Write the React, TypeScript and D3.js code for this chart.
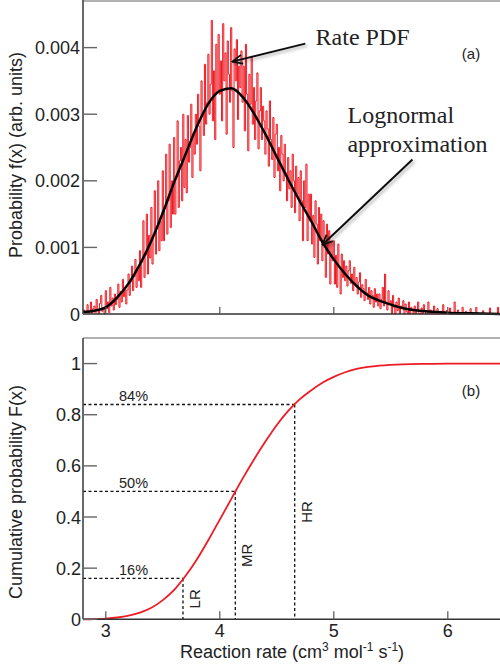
import { useEffect, useRef } from "react";
import * as d3 from "d3";

// rate PDF histogram, bins from 2.80 in steps of 0.01, values in 1e-5 units
const pdfStart = 2.8;
const pdfStep = 0.01;
const ratePdf = [
  0, 6, 0, 2, 14, 0, 3, 18, 0, 8,
  12, 0, 22, 5, 0, 16, 28, 4, 10, 0,
  35, 8, 18, 2, 40, 12, 24, 6, 30, 14,
  22, 45, 10, 34, 18, 52, 26, 40, 15, 36,
  60, 28, 48, 72, 35, 56, 82, 40, 66, 50,
  95, 40, 78, 140, 55, 88, 150, 60, 118, 84,
  160, 75, 118, 185, 90, 128, 200, 95, 140, 110,
  215, 110, 158, 240, 120, 170, 255, 130, 200, 150,
  265, 150, 205, 290, 160, 230, 250, 170, 300, 190,
  262, 182, 298, 228, 250, 315, 205, 272, 240, 300,
  255, 330, 282, 215, 350, 300, 268, 375, 285, 318,
  390, 300, 345, 441, 290, 365, 262, 405, 332, 420,
  330, 380, 290, 436, 350, 392, 270, 410, 360, 318,
  430, 335, 250, 398, 350, 412, 292, 372, 340, 395,
  318, 372, 275, 405, 330, 245, 360, 315, 385, 285,
  340, 262, 320, 362, 248, 305, 340, 262, 312, 290,
  240, 305, 278, 222, 320, 262, 232, 295, 205, 270,
  285, 215, 250, 185, 268, 240, 200, 255, 212, 170,
  235, 188, 215, 160, 240, 200, 152, 222, 180, 205,
  140, 215, 170, 110, 200, 160, 225, 110, 180, 140,
  180, 105, 148, 85, 170, 135, 75, 160, 110, 150,
  80, 140, 110, 55, 135, 90, 125, 45, 108, 80,
  110, 45, 88, 40, 105, 70, 30, 90, 55, 80,
  50, 72, 42, 65, 80, 46, 60, 35, 70, 45,
  55, 30, 48, 62, 25, 44, 38, 20, 52, 32,
  22, 40, 15, 35, 28, 10, 38, 18, 30, 12,
  30, 8, 22, 40, 12, 60, 18, 6, 35, 15,
  20, 0, 28, 10, 0, 18, 5, 24, 0, 12,
  8, 20, 0, 15, 4, 0, 18, 0, 10, 6,
  0, 12, 0, 5, 18, 0, 0, 9, 0, 14,
  5, 0, 0, 18, 0, 6, 0, 0, 12, 0,
  0, 8, 0, 0, 4, 0, 14, 0, 0, 5,
  0, 0, 9, 0, 0, 0, 18, 0, 0, 6,
  0, 0, 0, 10, 0, 0, 4, 0, 0, 0,
  8, 0, 0, 0, 0, 10, 0, 0, 0, 0,
  0, 5, 0, 0, 0, 0, 0, 9, 0, 0,
  0, 0, 0, 0, 10, 0, 0, 0, 0, 0,
  0,
];

// lognormal approximation, values in 1e-5 units
const lognormX = [2.8, 2.9, 3.0, 3.1, 3.2, 3.3, 3.4, 3.5, 3.6, 3.7, 3.8, 3.9, 4.0, 4.1, 4.2, 4.3, 4.4, 4.5, 4.6, 4.7, 4.8, 4.9, 5.0, 5.1, 5.2, 5.3, 5.4, 5.5, 5.6, 5.7, 5.8, 5.9, 6.0, 6.2, 6.5];
const lognormY = [3, 5, 10, 25, 46, 75, 110, 152, 198, 240, 282, 316, 335, 339, 326, 301, 270, 236, 202, 170, 140, 108, 82, 60, 42, 28, 20, 14, 9, 6, 4, 3, 2, 1, 0];

// cumulative probability
const cdfX = [2.8, 2.9, 3.0, 3.1, 3.2, 3.3, 3.4, 3.5, 3.6, 3.7, 3.8, 3.9, 4.0, 4.1, 4.2, 4.3, 4.4, 4.5, 4.6, 4.7, 4.8, 4.9, 5.0, 5.1, 5.2, 5.3, 5.4, 5.5, 5.6, 5.8, 6.0, 6.5];
const cdfY = [0, 0.001, 0.003, 0.007, 0.014, 0.026, 0.045, 0.075, 0.115, 0.17, 0.235, 0.31, 0.39, 0.47, 0.55, 0.625, 0.695, 0.76, 0.815, 0.86, 0.895, 0.925, 0.948, 0.966, 0.979, 0.987, 0.992, 0.995, 0.997, 0.999, 1.0, 1.0];

// percentile levels
const levelP = [0.16, 0.5, 0.84];
const levelX = [3.677, 4.136, 4.657];
const levelLabels = ["16%", "50%", "84%"];
const levelTags = ["LR", "MR", "HR"];

const xTicks = [3, 4, 5, 6];
const pdfTicks = [0, 0.001, 0.002, 0.003, 0.004];
const pdfTickLabels = ["0", "0.001", "0.002", "0.003", "0.004"];
const cdfTicks = [0, 0.2, 0.4, 0.6, 0.8, 1];
const cdfTickLabels = ["0", "0.2", "0.4", "0.6", "0.8", "1"];

const W = 500;
const H = 668;
const SANS = "'Liberation Sans', Arial, Helvetica, sans-serif";
const SERIF = "'Liberation Serif', 'Times New Roman', serif";
const RED = "#ee1b24";

export default function App() {
  const ref = useRef<SVGSVGElement | null>(null);

  useEffect(() => {
    const svg = d3.select(ref.current!);
    svg.selectAll("*").remove();

    const left = 83;
    const x = d3.scaleLinear().domain([2.8, 6.5]).range([left, 504.8]);
    const yTop = d3.scaleLinear().domain([0, 0.0047]).range([314, 1]);
    const yBot = d3.scaleLinear().domain([0, 1.1]).range([619.3, 338]);

    const defs = svg.append("defs");
    defs
      .append("marker")
      .attr("id", "open-arrow")
      .attr("viewBox", "0 0 12 12")
      .attr("refX", 11)
      .attr("refY", 6)
      .attr("markerWidth", 12)
      .attr("markerHeight", 12)
      .attr("markerUnits", "userSpaceOnUse")
      .attr("orient", "auto")
      .append("path")
      .attr("d", "M1,1.5 L11,6 L1,10.5")
      .attr("fill", "none")
      .attr("stroke", "#111")
      .attr("stroke-width", 1.8);
    const shadow = defs.append("filter").attr("id", "shadow").attr("x", "-20%").attr("y", "-20%").attr("width", "140%").attr("height", "140%");
    shadow
      .append("feDropShadow")
      .attr("dx", 2)
      .attr("dy", 2)
      .attr("stdDeviation", 1.6)
      .attr("flood-color", "#000")
      .attr("flood-opacity", 0.3);

    // ---------- (a) probability density ----------
    const top = svg.append("g");
    top.append("line").attr("x1", left).attr("x2", W).attr("y1", 1).attr("y2", 1).attr("stroke", "#999").attr("stroke-width", 1.5);

    const pdfPts: [number, number][] = ratePdf.map((v, i) => [pdfStart + i * pdfStep, v * 1e-5]);
    top
      .append("path")
      .datum(pdfPts)
      .attr("fill", "none")
      .attr("stroke", RED)
      .attr("stroke-width", 1)
      .attr(
        "d",
        d3
          .line<[number, number]>()
          .x((d) => x(d[0]))
          .y((d) => yTop(d[1]))
          .curve(d3.curveStep)
      );

    const lnPts: [number, number][] = lognormX.map((v, i) => [v, lognormY[i] * 1e-5]);
    top
      .append("path")
      .datum(lnPts)
      .attr("fill", "none")
      .attr("stroke", "#000")
      .attr("stroke-width", 2.5)
      .attr(
        "d",
        d3
          .line<[number, number]>()
          .x((d) => x(d[0]))
          .y((d) => yTop(d[1]))
          .curve(d3.curveMonotoneX)
      );

    top.append("line").attr("x1", left).attr("x2", left).attr("y1", 0).attr("y2", yTop(0)).attr("stroke", "#444").attr("stroke-width", 1.6);
    top.append("line").attr("x1", left).attr("x2", W).attr("y1", yTop(0)).attr("y2", yTop(0)).attr("stroke", "#333").attr("stroke-width", 1.6);

    top
      .selectAll("line.ytick")
      .data(pdfTicks)
      .join("line")
      .attr("class", "ytick")
      .attr("x1", left)
      .attr("x2", left + 14)
      .attr("y1", (d) => yTop(d))
      .attr("y2", (d) => yTop(d))
      .attr("stroke", "#666")
      .attr("stroke-width", 1.4);
    top
      .selectAll("line.xtick")
      .data(xTicks)
      .join("line")
      .attr("class", "xtick")
      .attr("x1", (d) => x(d))
      .attr("x2", (d) => x(d))
      .attr("y1", yTop(0))
      .attr("y2", yTop(0) - 7)
      .attr("stroke", "#555")
      .attr("stroke-width", 1.2);
    top
      .selectAll("text.ylab")
      .data(pdfTicks)
      .join("text")
      .attr("class", "ylab")
      .attr("x", 80)
      .attr("y", (d) => yTop(d) + 6.5)
      .attr("text-anchor", "end")
      .style("font", `18px ${SANS}`)
      .style("fill", "#222")
      .text((_, i) => pdfTickLabels[i]);

    top
      .append("text")
      .attr("transform", `translate(22,155) rotate(-90)`)
      .attr("text-anchor", "middle")
      .style("font", `18px ${SANS}`)
      .style("fill", "#222")
      .text("Probability f(x) (arb. units)");

    top
      .append("text")
      .attr("x", 471)
      .attr("y", 59)
      .attr("text-anchor", "middle")
      .style("font", `15px ${SANS}`)
      .style("fill", "#222")
      .text("(a)");

    // annotations
    top
      .append("text")
      .attr("x", x(4.84))
      .attr("y", yTop(0.00404))
      .style("font", `24px ${SERIF}`)
      .style("fill", "#222")
      .text("Rate PDF");
    top
      .append("text")
      .attr("x", x(5.12))
      .attr("y", yTop(0.00287))
      .style("font", `24px ${SERIF}`)
      .style("fill", "#222")
      .text("Lognormal");
    top
      .append("text")
      .attr("x", x(5.12))
      .attr("y", yTop(0.00244))
      .style("font", `24px ${SERIF}`)
      .style("fill", "#222")
      .text("approximation");

    const arrows = [
      { from: [4.75, 0.00406], to: [4.11, 0.00379] },
      { from: [5.69, 0.00232], to: [4.9, 0.00104] },
    ];
    top
      .selectAll("line.arrow")
      .data(arrows)
      .join("line")
      .attr("class", "arrow")
      .attr("x1", (d) => x(d.from[0]))
      .attr("y1", (d) => yTop(d.from[1]))
      .attr("x2", (d) => x(d.to[0]))
      .attr("y2", (d) => yTop(d.to[1]))
      .attr("stroke", "#111")
      .attr("stroke-width", 2)
      .attr("marker-end", "url(#open-arrow)")
      .attr("filter", "url(#shadow)");

    // ---------- (b) cumulative probability ----------
    const bot = svg.append("g");
    bot.append("line").attr("x1", left).attr("x2", W).attr("y1", yBot(1.1)).attr("y2", yBot(1.1)).attr("stroke", "#999").attr("stroke-width", 1.5);

    const dash = "3,2.5";
    levelP.forEach((p, i) => {
      bot.append("line").attr("x1", left).attr("x2", x(levelX[i])).attr("y1", yBot(p)).attr("y2", yBot(p)).attr("stroke", "#111").attr("stroke-width", 1.3).attr("stroke-dasharray", dash);
      bot.append("line").attr("x1", x(levelX[i])).attr("x2", x(levelX[i])).attr("y1", yBot(p)).attr("y2", yBot(0)).attr("stroke", "#111").attr("stroke-width", 1.3).attr("stroke-dasharray", dash);
      bot
        .append("text")
        .attr("x", 119)
        .attr("y", yBot(p) - 3)
        .style("font", `14.5px ${SANS}`)
        .style("fill", "#222")
        .text(levelLabels[i]);
      bot
        .append("text")
        .attr("transform", `translate(${x(levelX[i]) + 17},${yBot(p / 2)}) rotate(-90)`)
        .attr("text-anchor", "middle")
        .style("font", `15px ${SANS}`)
        .style("fill", "#222")
        .text(levelTags[i]);
    });

    const cdfPts: [number, number][] = cdfX.map((v, i) => [v, cdfY[i]]);
    bot
      .append("path")
      .datum(cdfPts)
      .attr("fill", "none")
      .attr("stroke", RED)
      .attr("stroke-width", 1.8)
      .attr(
        "d",
        d3
          .line<[number, number]>()
          .x((d) => x(d[0]))
          .y((d) => yBot(d[1]))
          .curve(d3.curveMonotoneX)
      );

    bot.append("line").attr("x1", left).attr("x2", left).attr("y1", yBot(1.1)).attr("y2", yBot(0)).attr("stroke", "#444").attr("stroke-width", 1.6);
    bot.append("line").attr("x1", left).attr("x2", W).attr("y1", yBot(0)).attr("y2", yBot(0)).attr("stroke", "#333").attr("stroke-width", 1.6);

    bot
      .selectAll("line.ytick")
      .data(cdfTicks)
      .join("line")
      .attr("class", "ytick")
      .attr("x1", left)
      .attr("x2", left + 14)
      .attr("y1", (d) => yBot(d))
      .attr("y2", (d) => yBot(d))
      .attr("stroke", "#666")
      .attr("stroke-width", 1.4);
    bot
      .selectAll("line.xtick")
      .data(xTicks)
      .join("line")
      .attr("class", "xtick")
      .attr("x1", (d) => x(d))
      .attr("x2", (d) => x(d))
      .attr("y1", yBot(0))
      .attr("y2", yBot(0) - 8)
      .attr("stroke", "#555")
      .attr("stroke-width", 1.2);
    bot
      .selectAll("text.ylab")
      .data(cdfTicks)
      .join("text")
      .attr("class", "ylab")
      .attr("x", 81)
      .attr("y", (d) => yBot(d) + 6.5)
      .attr("text-anchor", "end")
      .style("font", `18px ${SANS}`)
      .style("fill", "#222")
      .text((_, i) => cdfTickLabels[i]);
    bot
      .selectAll("text.xlab")
      .data(xTicks)
      .join("text")
      .attr("class", "xlab")
      .attr("x", (d) => x(d))
      .attr("y", 637)
      .attr("text-anchor", "middle")
      .style("font", `18px ${SANS}`)
      .style("fill", "#222")
      .text((d) => String(d));

    bot
      .append("text")
      .attr("transform", `translate(22,492) rotate(-90)`)
      .attr("text-anchor", "middle")
      .style("font", `18px ${SANS}`)
      .style("fill", "#222")
      .text("Cumulative probability F(x)");

    bot
      .append("text")
      .attr("x", 471)
      .attr("y", 396)
      .attr("text-anchor", "middle")
      .style("font", `15px ${SANS}`)
      .style("fill", "#222")
      .text("(b)");

    const xt = bot
      .append("text")
      .attr("x", 292)
      .attr("y", 658)
      .attr("text-anchor", "middle")
      .style("font", `18px ${SANS}`)
      .style("fill", "#222");
    const parts: [string, boolean][] = [
      ["Reaction rate (cm", false],
      ["3", true],
      [" mol", false],
      ["-1", true],
      [" s", false],
      ["-1", true],
      [")", false],
    ];
    parts.forEach(([t, sup], i) => {
      const prevSup = i > 0 && parts[i - 1][1];
      xt.append("tspan")
        .attr("dy", sup ? -7 : prevSup ? 7 : 0)
        .style("font-size", sup ? "12px" : "18px")
        .text(t);
    });
  }, []);

  return (
    <svg
      ref={ref}
      width={W}
      height={H}
      style={{ position: "absolute", left: 0, top: 0, background: "#fff" }}
    />
  );
}
